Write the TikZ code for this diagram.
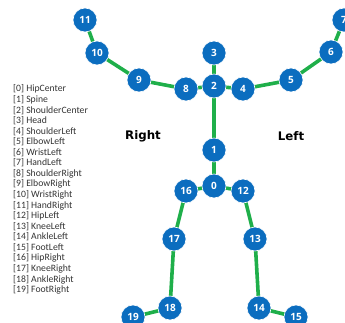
\documentclass[tikz,border=0pt]{standalone}
\usepackage{fontspec}
\setmainfont{Carlito}
\newfontfamily\jointfont{Open Sans}
\newfontfamily\sidefont{DejaVu Sans}
\definecolor{jointblue}{HTML}{0B6DBF}
\definecolor{bonegreen}{HTML}{1FAF4A}
\begin{document}
\begin{tikzpicture}[x=1pt,y=-1pt,
  joint/.style={circle,fill=jointblue,draw=white,line width=0.6pt,minimum size=24pt,inner sep=0pt,
    text=white,font=\jointfont\bfseries\fontsize{10}{10}\selectfont},
  bone/.style={bonegreen,line width=3.6pt},
  side/.style={font=\sidefont\bfseries\fontsize{11.8}{12}\selectfont},
  legend/.style={anchor=west,inner sep=0pt,font=\fontsize{9.7}{10}\selectfont,text=black!80}]
\useasboundingbox (0,0) rectangle (345,323);
% skeleton joints
\coordinate (p0) at (214,186);
\coordinate (p1) at (214,150);
\coordinate (p2) at (214,86);
\coordinate (p3) at (214,53);
\coordinate (p4) at (243,89);
\coordinate (p5) at (291,80);
\coordinate (p6) at (331,52);
\coordinate (p7) at (344,20);
\coordinate (p8) at (186,89);
\coordinate (p9) at (139,80);
\coordinate (p10) at (97,53);
\coordinate (p11) at (85,20);
\coordinate (p12) at (243,191);
\coordinate (p13) at (255,239);
\coordinate (p14) at (259,308);
\coordinate (p15) at (296,317);
\coordinate (p16) at (186,191);
\coordinate (p17) at (174,239);
\coordinate (p18) at (170,308);
\coordinate (p19) at (133,317);
% bones
\draw[bone] (p11) -- (p10) -- (p9) -- (p8) -- (p2) -- (p4) -- (p5) -- (p6) -- (p7);
\draw[bone] (p3) -- (p2) -- (p1) -- (p0);
\draw[bone] (p19) -- (p18) -- (p17) -- (p16) -- (p0) -- (p12) -- (p13) -- (p14) -- (p15);
% joint markers
\foreach \i in {0,...,19} \node[joint] (j\i) at (p\i) {\i};
% side labels
\node[side] (right) at (143,136) {Right};
\node[side] (left) at (291,136) {Left};
% legend
\foreach [count=\k from 0] \name in {HipCenter,Spine,ShoulderCenter,Head,ShoulderLeft,ElbowLeft,WristLeft,HandLeft,ShoulderRight,ElbowRight,WristRight,HandRight,HipLeft,KneeLeft,AnkleLeft,FootLeft,HipRight,KneeRight,AnkleRight,FootRight}
  \node[legend] (lg\k) at (13,{89+10.58*\k}) {[\k] \name};
\end{tikzpicture}
\end{document}
